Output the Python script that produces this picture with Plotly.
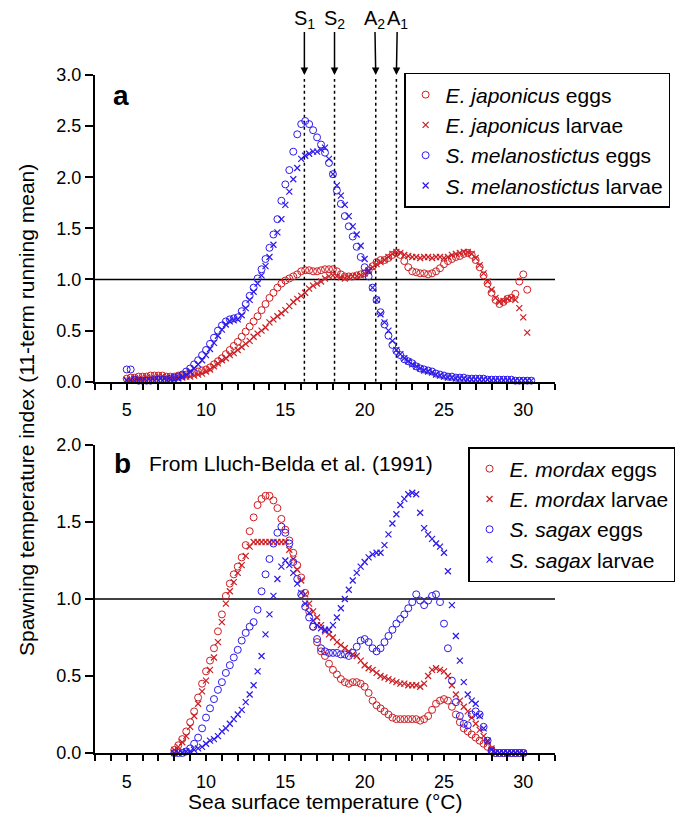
import numpy as np
import plotly.graph_objects as go

# ---------------- data ----------------
STEP = 0.25
start_a = 5.0
start_b = 8.0

# Panel a : Japan (E. japonicus / S. melanostictus)
ja_eggs = [0.03,0.04,0.04,0.05, 0.05,0.05,0.06,0.06, 0.06,0.06,0.05,0.05, 0.05,0.06,0.06,0.07,
           0.08,0.09,0.10,0.11, 0.12,0.14,0.17,0.20, 0.23,0.27,0.31,0.35, 0.39,0.44,0.49,0.54,
           0.59,0.64,0.70,0.76, 0.82,0.87,0.92,0.96, 0.99,1.01,1.03,1.05, 1.08,1.09,1.09,1.08,
           1.08,1.09,1.10,1.10, 1.10,1.08,1.05,1.03, 1.03,1.03,1.04,1.05, 1.06,1.09,1.13,1.17,
           1.19,1.19,1.21,1.24, 1.26,1.24,1.18,1.12, 1.08,1.07,1.06,1.06, 1.05,1.06,1.08,1.11,
           1.15,1.18,1.20,1.22, 1.23,1.25,1.26,1.24, 1.19,1.12,1.04,0.96, 0.87,0.80,0.76,0.78,
           0.81,0.82,0.86,0.98, 1.05,0.90]
ja_larvae = [0.02,0.02,0.03,0.03, 0.03,0.04,0.04,0.04, 0.05,0.05,0.04,0.04, 0.04,0.04,0.04,0.05,
             0.05,0.06,0.07,0.08, 0.10,0.12,0.15,0.18, 0.21,0.23,0.26,0.28, 0.31,0.34,0.37,0.40,
             0.44,0.47,0.50,0.53, 0.58,0.61,0.64,0.67, 0.70,0.74,0.78,0.81, 0.84,0.87,0.91,0.94,
             0.96,0.98,1.01,1.03, 1.04,1.03,1.02,1.01, 1.02,1.03,1.03,1.04, 1.06,1.09,1.12,1.15,
             1.17,1.19,1.22,1.25, 1.27,1.26,1.24,1.23, 1.22,1.22,1.21,1.22, 1.22,1.21,1.22,1.22,
             1.21,1.22,1.24,1.25, 1.26,1.27,1.27,1.25, 1.21,1.14,1.06,0.98, 0.90,0.82,0.78,0.79,
             0.81,0.82,0.80,0.72, 0.63,0.48]
me_eggs = [0.12,0.12,0.02,0.01, 0.01,0.01,0.01,0.02, 0.02,0.02,0.02,0.03, 0.04,0.05,0.07,0.10,
           0.13,0.17,0.21,0.26, 0.31,0.37,0.43,0.50, 0.55,0.59,0.61,0.62, 0.63,0.69,0.76,0.84,
           0.92,1.01,1.10,1.20, 1.31,1.44,1.59,1.77, 1.93,2.07,2.25,2.42, 2.52,2.55,2.52,2.46,
           2.39,2.32,2.24,2.14, 2.03,1.87,1.74,1.62, 1.52,1.42,1.32,1.22, 1.12,1.03,0.92,0.80,
           0.68,0.56,0.45,0.36, 0.30,0.26,0.22,0.20, 0.18,0.15,0.13,0.12, 0.11,0.10,0.08,0.07,
           0.06,0.05,0.05,0.04, 0.04,0.04,0.03,0.03, 0.03,0.03,0.03,0.02, 0.02,0.02,0.02,0.02,
           0.02,0.02,0.01,0.01, 0.01,0.01,0.01]
me_larvae = [0.01,0.01,0.01,0.01, 0.01,0.01,0.01,0.01, 0.01,0.01,0.01,0.02, 0.02,0.03,0.05,0.07,
             0.10,0.13,0.17,0.21, 0.26,0.32,0.38,0.45, 0.51,0.56,0.59,0.60, 0.61,0.65,0.72,0.80,
             0.88,0.96,1.04,1.13, 1.22,1.34,1.46,1.59, 1.73,1.86,1.98,2.09, 2.18,2.21,2.23,2.25,
             2.25,2.27,2.29,2.18, 2.03,1.92,1.82,1.73, 1.62,1.52,1.44,1.33, 1.20,1.08,0.92,0.80,
             0.66,0.58,0.50,0.40, 0.31,0.27,0.23,0.20, 0.17,0.15,0.13,0.11, 0.10,0.09,0.07,0.06,
             0.05,0.04,0.04,0.03, 0.03,0.03,0.02,0.02, 0.02,0.02,0.02,0.02, 0.01,0.01,0.01,0.01,
             0.01,0.01,0.01,0.01, 0.01,0.01,0.01]

# Panel b : California (E. mordax / S. sagax), Lluch-Belda et al. (1991)
mo_eggs = [0.02,0.05,0.09,0.14, 0.20,0.27,0.36,0.45, 0.53,0.60,0.68,0.79, 0.90,1.02,1.10,1.16,
           1.21,1.27,1.35,1.44, 1.53,1.61,1.65,1.67, 1.67,1.64,1.59,1.52, 1.45,1.38,1.30,1.22,
           1.14,1.04,0.92,0.82, 0.72,0.66,0.63,0.58, 0.54,0.51,0.48,0.46, 0.45,0.46,0.46,0.45,
           0.43,0.39,0.34,0.31, 0.29,0.27,0.25,0.23, 0.22,0.22,0.22,0.22, 0.22,0.22,0.21,0.22,
           0.24,0.28,0.32,0.34, 0.35,0.34,0.30,0.25, 0.20,0.16,0.14,0.12, 0.10,0.08,0.06,0.04,
           0.02,0.00,0.00,0.00, 0.00,0.00,0.00,0.00, 0.00]
mo_larvae = [0.02,0.04,0.07,0.11, 0.17,0.24,0.32,0.40, 0.47,0.54,0.62,0.72, 0.85,0.97,1.05,1.11,
             1.17,1.22,1.28,1.34, 1.37,1.37,1.37,1.37, 1.37,1.37,1.37,1.37, 1.37,1.32,1.26,1.19,
             1.12,1.03,0.97,0.92, 0.88,0.83,0.79,0.77, 0.75,0.72,0.70,0.68, 0.66,0.64,0.63,0.60,
             0.57,0.55,0.54,0.52, 0.50,0.49,0.48,0.47, 0.46,0.45,0.45,0.44, 0.44,0.44,0.43,0.45,
             0.50,0.54,0.55,0.54, 0.53,0.50,0.44,0.38, 0.34,0.30,0.27,0.23, 0.19,0.15,0.11,0.07,
             0.03,0.00,0.00,0.00, 0.00,0.00,0.00,0.00, 0.00]
sa_eggs = [0.00,0.00,0.00,0.01, 0.03,0.06,0.10,0.16, 0.23,0.29,0.35,0.41, 0.46,0.52,0.57,0.62,
           0.67,0.73,0.78,0.82, 0.85,0.93,1.05,1.16, 1.26,1.36,1.43,1.47, 1.43,1.36,1.24,1.13,
           1.03,0.95,0.88,0.82, 0.74,0.68,0.66,0.65, 0.65,0.65,0.64,0.64, 0.63,0.65,0.69,0.73,
           0.74,0.72,0.68,0.66, 0.68,0.72,0.76,0.80, 0.84,0.87,0.90,0.94, 0.98,1.03,0.99,0.96,
           0.99,1.02,1.03,0.98, 0.84,0.68,0.47,0.33, 0.24,0.19,0.18,0.25, 0.27,0.25,0.17,0.08,
           0.01,0.00,0.00,0.00, 0.00,0.00,0.00,0.00, 0.00]
sa_larvae = [0.00,0.00,0.00,0.01, 0.01,0.02,0.03,0.04, 0.06,0.08,0.09,0.11, 0.14,0.16,0.19,0.22,
             0.25,0.28,0.33,0.38, 0.44,0.53,0.63,0.77, 0.90,1.02,1.13,1.21, 1.25,1.22,1.17,1.10,
             1.04,0.97,0.91,0.86, 0.83,0.81,0.80,0.80, 0.83,0.88,0.94,1.00, 1.06,1.12,1.17,1.21,
             1.24,1.27,1.29,1.30, 1.30,1.35,1.42,1.49, 1.55,1.61,1.65,1.68, 1.69,1.68,1.56,1.46,
             1.42,1.39,1.36,1.34, 1.30,1.18,0.96,0.76, 0.60,0.46,0.38,0.34, 0.32,0.24,0.16,0.08,
             0.02,0.00,0.00,0.00, 0.00,0.00,0.00,0.00, 0.00]

marker_temps = [16.2, 18.1, 20.7, 22.0]
marker_labels = ["S<sub>1</sub>", "S<sub>2</sub>", "A<sub>2</sub>", "A<sub>1</sub>"]

x_ticks = [5, 10, 15, 20, 25, 30]
ya_ticks = [0.0, 0.5, 1.0, 1.5, 2.0, 2.5, 3.0]
yb_ticks = [0.0, 0.5, 1.0, 1.5, 2.0]

# ---------------- style ----------------
RED = "rgb(205,30,35)"
BLUE = "rgb(45,25,235)"
FONT = "Liberation Sans, Arial, sans-serif"


def temps(start, vals):
    return np.round(start + STEP * np.arange(len(vals)), 2)


def trace(start, vals, color, kind, name, xa, ya, legend):
    if kind == "eggs":
        marker = dict(symbol="circle-open", size=7, color=color, line=dict(color=color, width=1))
    else:
        marker = dict(symbol="x-thin-open", size=6, color=color, line=dict(color=color, width=1.2))
    return go.Scatter(x=temps(start, vals), y=vals, mode="markers", marker=marker, name=name,
                      xaxis=xa, yaxis=ya, legend=legend, cliponaxis=False)


fig = go.Figure()
fig.add_trace(trace(start_a, ja_eggs, RED, "eggs", "<i>E. japonicus</i> eggs", "x2", "y2", "legend"))
fig.add_trace(trace(start_a, ja_larvae, RED, "larvae", "<i>E. japonicus</i> larvae", "x2", "y2", "legend"))
fig.add_trace(trace(start_a, me_eggs, BLUE, "eggs", "<i>S. melanostictus</i> eggs", "x2", "y2", "legend"))
fig.add_trace(trace(start_a, me_larvae, BLUE, "larvae", "<i>S. melanostictus</i> larvae", "x2", "y2", "legend"))
fig.add_trace(trace(start_b, mo_eggs, RED, "eggs", "<i>E. mordax</i> eggs", "x", "y", "legend2"))
fig.add_trace(trace(start_b, mo_larvae, RED, "larvae", "<i>E. mordax</i> larvae", "x", "y", "legend2"))
fig.add_trace(trace(start_b, sa_eggs, BLUE, "eggs", "<i>S. sagax</i> eggs", "x", "y", "legend2"))
fig.add_trace(trace(start_b, sa_larvae, BLUE, "larvae", "<i>S. sagax</i> larvae", "x", "y", "legend2"))

xcommon = dict(range=[3, 32], tickvals=x_ticks, ticks="outside", ticklen=6, tickwidth=1.5,
               tickcolor="black", showline=True, linewidth=2, linecolor="black",
               showgrid=False, zeroline=False, ticklabelstandoff=5,
               minor=dict(dtick=1, tick0=0, ticks="outside", ticklen=6, tickwidth=1.5,
                          tickcolor="black", showgrid=False),
               tickfont=dict(size=18, color="black", family=FONT))
ycommon = dict(ticks="outside", ticklen=8, tickwidth=1.5, tickcolor="black", showline=True,
               linewidth=2, linecolor="black", showgrid=False, zeroline=False, tickformat=".1f",
               tickfont=dict(size=18, color="black", family=FONT))

leg = dict(xref="paper", yref="paper", xanchor="left", yanchor="top", bgcolor="white",
           bordercolor="black", borderwidth=1.5, font=dict(size=21, color="black", family=FONT),
           traceorder="normal")

# page body has an 8 px margin, so the figure is 16 px smaller than the window
fig.update_layout(
    width=668, height=806,
    margin=dict(l=87, r=121, t=67, b=61, autoexpand=False),
    paper_bgcolor="white", plot_bgcolor="white",
    font=dict(family=FONT, color="black"),
    xaxis=dict(anchor="y", **xcommon),
    yaxis=dict(anchor="x", domain=[0, 0.4543], range=[0, 2], tickvals=yb_ticks, **ycommon),
    xaxis2=dict(anchor="y2", **xcommon),
    yaxis2=dict(anchor="x2", domain=[0.5476, 1], range=[0, 3], tickvals=ya_ticks, **ycommon),
    legend=dict(x=0.672, y=1.003, **leg),
    legend2=dict(x=0.811, y=0.4513, **leg),
    showlegend=True,
)

# reference line at 1.0 in both panels
for xr, yr in (("x2", "y2"), ("x", "y")):
    fig.add_shape(type="line", xref=xr, yref=yr, x0=3, x1=32, y0=1, y1=1,
                  line=dict(color="black", width=1.5), layer="below")

# S1, S2, A2, A1 markers: dotted line + labelled arrow
label_nudge = [0, 0, -1, 1]
for t, lab, nudge in zip(marker_temps, marker_labels, label_nudge):
    fig.add_shape(type="line", xref="x2", yref="y2", x0=t, x1=t, y0=0, y1=2.96,
                  line=dict(color="black", width=1.5, dash="3px,3px"), layer="below")
    fig.add_annotation(xref="x2", yref="y2", x=t, y=3.0, ax=nudge, ay=-56, text=lab,
                       showarrow=True, arrowhead=2, arrowsize=1, arrowwidth=1.5,
                       arrowcolor="black", borderpad=0,
                       font=dict(size=20, color="black", family=FONT))

# panel labels and texts
fig.add_annotation(xref="paper", yref="paper", x=0.035, y=0.9705, text="<b>a</b>", showarrow=False,
                   xanchor="left", yanchor="middle", font=dict(size=28, color="black", family=FONT))
fig.add_annotation(xref="paper", yref="paper", x=0.037, y=0.4263, text="<b>b</b>", showarrow=False,
                   xanchor="left", yanchor="middle", font=dict(size=28, color="black", family=FONT))
fig.add_annotation(xref="paper", yref="paper", x=0.1124, y=0.4277, text="From Lluch-Belda et al. (1991)",
                   showarrow=False, xanchor="left", yanchor="middle",
                   font=dict(size=21, color="black", family=FONT))
fig.add_annotation(xref="paper", yref="paper", x=-0.1478, y=0.506,
                   text="Spawning temperature index (11-term running mean)", textangle=-90,
                   showarrow=False, xanchor="center", yanchor="middle",
                   font=dict(size=21, color="black", family=FONT))
fig.add_annotation(xref="paper", yref="paper", x=0.5, y=-0.0708, text="Sea surface temperature (°C)",
                   showarrow=False, xanchor="center", yanchor="middle",
                   font=dict(size=21, color="black", family=FONT))

fig.write_html("out.html")
